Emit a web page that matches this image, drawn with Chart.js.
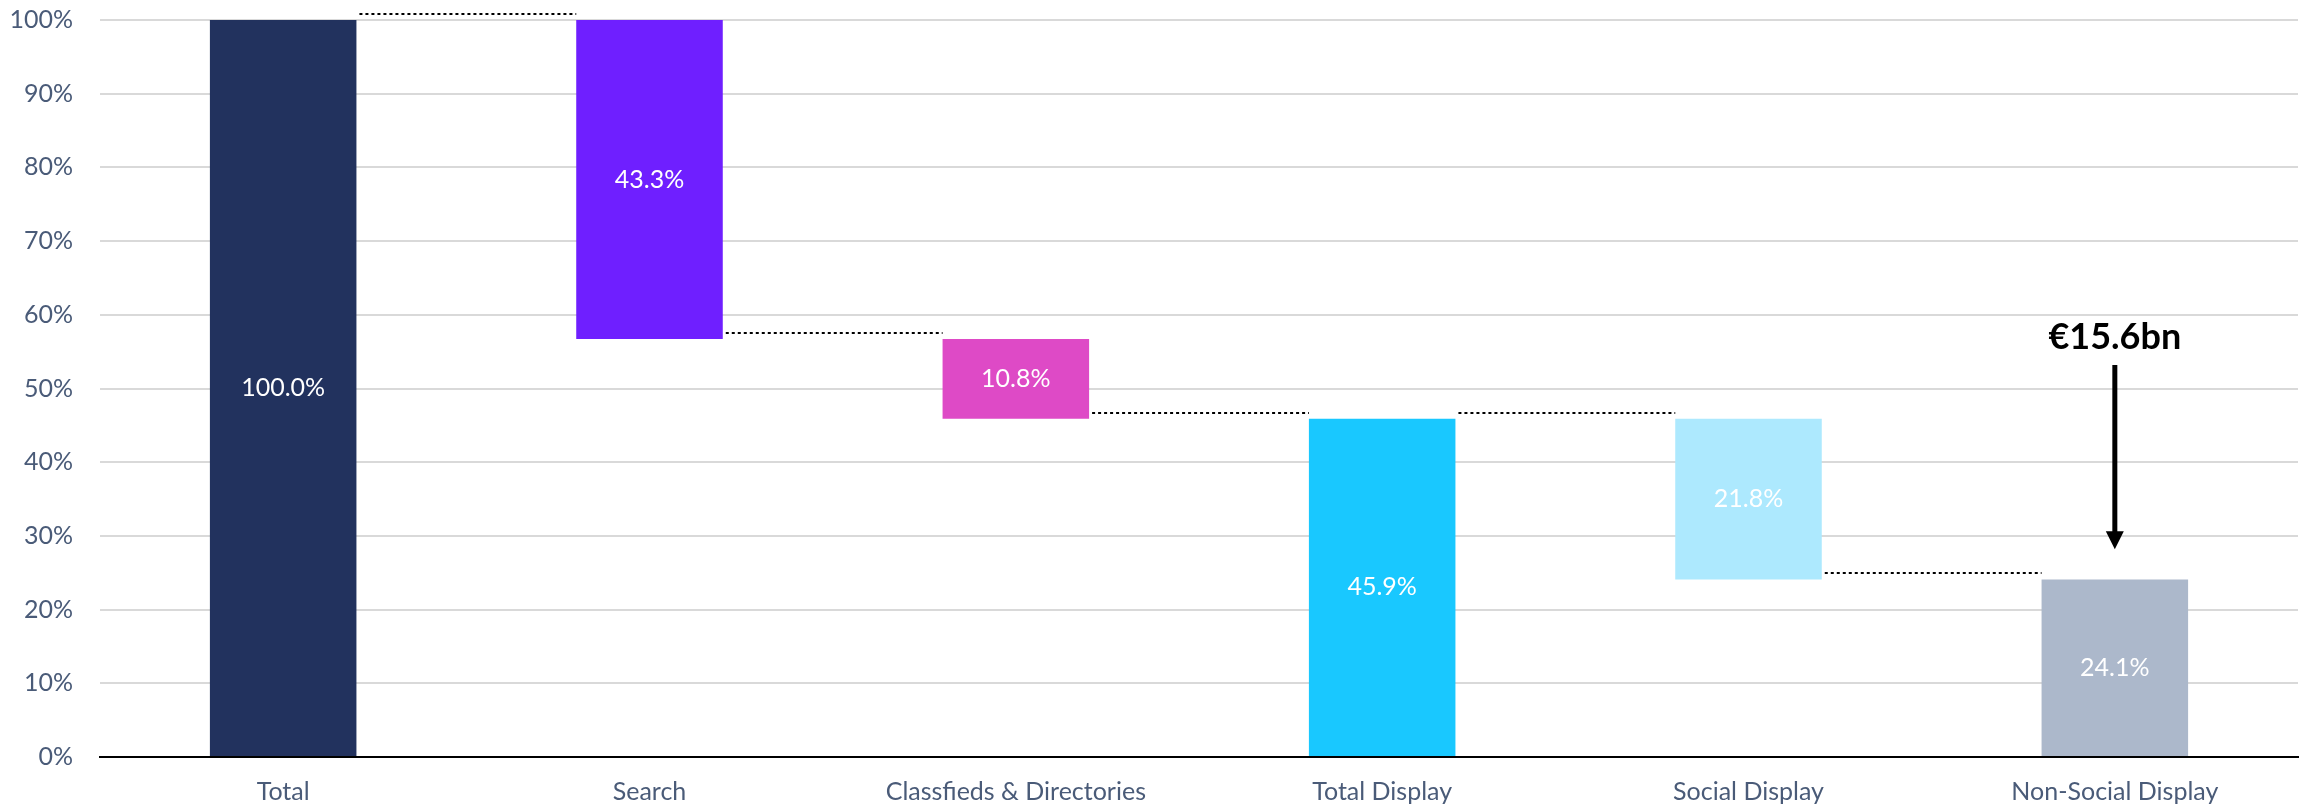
<!DOCTYPE html>
<html>
<head>
<meta charset="utf-8">
<script src="https://cdn.jsdelivr.net/npm/chart.js@4.4.0/dist/chart.umd.min.js"></script>
<style>
  html, body { margin: 0; padding: 0; background: #fff; }
  #wrap { width: 2305px; height: 810px; position: relative; }
</style>
</head>
<body>
<div id="wrap"><canvas id="waterfall"></canvas></div>
<script>
// categories and floating bar ranges [low, high] in %
const categories = ['Total', 'Search', 'Classfieds & Directories', 'Total Display', 'Social Display', 'Non-Social Display'];
const lows  = [0, 56.7, 45.9, 0, 24.1, 0];
const highs = [100, 100, 56.7, 45.9, 45.9, 24.1];
const shares = [100.0, 43.3, 10.8, 45.9, 21.8, 24.1];
const barColors = ['#22325e', '#6f1fff', '#de4ac6', '#19c8ff', '#ade9fe', '#acb8cb'];
const yTicks = [0, 10, 20, 30, 40, 50, 60, 70, 80, 90, 100];

// callout on the last bar
const calloutText = '€15.6bn';
const calloutTextAt = 57;
const arrowFrom = 53.2;
const arrowTo = 28.2;

const tickColor = '#4a5b78';
const fontFamily = 'Lato, "Noto Sans", sans-serif';

const ranges = lows.map((lo, i) => [lo, highs[i]]);

// value labels in the middle of each bar
const barLabels = {
    id: 'barLabels',
    afterDatasetsDraw(chart) {
        const ctx = chart.ctx;
        const meta = chart.getDatasetMeta(0);
        ctx.save();
        ctx.fillStyle = '#ffffff';
        ctx.font = '25px ' + fontFamily;
        ctx.textAlign = 'center';
        ctx.textBaseline = 'middle';
        meta.data.forEach((bar, i) => {
            const p = bar.getProps(['x', 'y', 'base'], true);
            ctx.fillText(shares[i].toFixed(1) + '%', p.x, (p.y + p.base) / 2);
        });
        ctx.restore();
    }
};

// dotted connectors between consecutive bars at the shared level
const connectors = {
    id: 'connectors',
    afterDatasetsDraw(chart) {
        const ctx = chart.ctx;
        const y = chart.scales.y;
        const meta = chart.getDatasetMeta(0);
        ctx.save();
        ctx.strokeStyle = '#000';
        ctx.lineWidth = 2;
        ctx.setLineDash([3, 3]);
        for (let i = 0; i < ranges.length - 1; i++) {
            const a = ranges[i], b = ranges[i + 1];
            const level = a.find(v => b.some(w => Math.abs(v - w) < 0.05));
            if (level === undefined) continue;
            const b1 = meta.data[i].getProps(['x', 'width'], true);
            const b2 = meta.data[i + 1].getProps(['x', 'width'], true);
            const py = Math.round(y.getPixelForValue(level)) - 6;
            ctx.beginPath();
            ctx.moveTo(b1.x + b1.width / 2 + 3, py);
            ctx.lineTo(b2.x - b2.width / 2, py);
            ctx.stroke();
        }
        ctx.restore();
    }
};

// €15.6bn callout with arrow
const callout = {
    id: 'callout',
    afterDatasetsDraw(chart) {
        const ctx = chart.ctx;
        const y = chart.scales.y;
        const meta = chart.getDatasetMeta(0);
        const x = meta.data[meta.data.length - 1].x;
        const y1 = y.getPixelForValue(arrowFrom);
        const y2 = y.getPixelForValue(arrowTo);
        ctx.save();
        ctx.fillStyle = '#000';
        ctx.strokeStyle = '#000';
        ctx.font = 'bold 36px ' + fontFamily;
        ctx.textAlign = 'center';
        ctx.textBaseline = 'middle';
        ctx.fillText(calloutText, x, y.getPixelForValue(calloutTextAt));
        ctx.lineWidth = 5;
        ctx.beginPath();
        ctx.moveTo(x, y1);
        ctx.lineTo(x, y2 - 16);
        ctx.stroke();
        ctx.beginPath();
        ctx.moveTo(x - 9, y2 - 18);
        ctx.lineTo(x + 9, y2 - 18);
        ctx.lineTo(x, y2);
        ctx.closePath();
        ctx.fill();
        ctx.restore();
    }
};

new Chart(document.getElementById('waterfall').getContext('2d'), {
    type: 'bar',
    data: {
        labels: categories,
        datasets: [{
            data: ranges,
            backgroundColor: barColors,
            borderWidth: 0,
            barPercentage: 0.4,
            categoryPercentage: 1.0
        }]
    },
    options: {
        responsive: true,
        maintainAspectRatio: false,
        animation: false,
        layout: { padding: { top: 20, right: 7, bottom: 0, left: 0 } },
        plugins: { legend: { display: false }, tooltip: { enabled: false } },
        scales: {
            x: {
                afterFit(scale) { scale.height = 53; },
                grid: { display: false, drawTicks: false },
                border: { display: true, color: '#000', width: 2 },
                ticks: { color: tickColor, font: { family: fontFamily, size: 25 }, padding: 20, maxRotation: 0 }
            },
            y: {
                min: 0,
                max: 100,
                afterFit(scale) {
                    scale.width = 100;
                    scale.paddingTop = 0;
                    scale.paddingBottom = 0;
                },
                afterBuildTicks(scale) { scale.ticks = yTicks.map(v => ({ value: v })); },
                grid: { color: '#d9d9d9', lineWidth: 2, drawTicks: false },
                border: { display: false },
                ticks: {
                    color: tickColor,
                    font: { family: fontFamily, size: 25 },
                    padding: 27,
                    callback: v => v + '%'
                }
            }
        }
    },
    plugins: [connectors, barLabels, callout]
});
</script>
</body>
</html>
